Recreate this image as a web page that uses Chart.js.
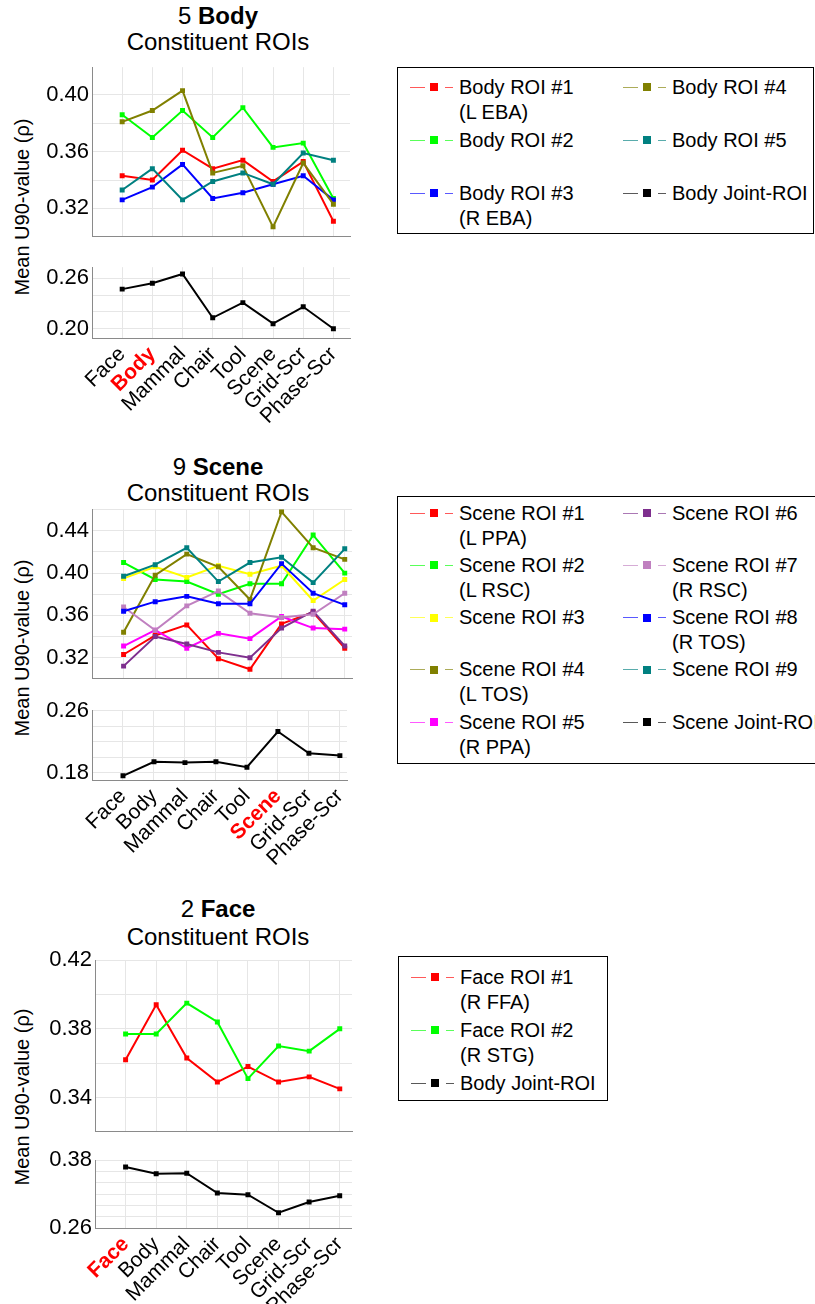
<!DOCTYPE html>
<html>
<head>
<meta charset="utf-8">
<script src="https://cdn.jsdelivr.net/npm/chart.js@4"></script>
<style>
body { margin: 0; background: #fff; }
#page { position: relative; width: 815px; height: 1304px; overflow: hidden; font-family: "Liberation Sans", Arial, sans-serif; color: #000; }
canvas { position: absolute; }
.title { position: absolute; left: 68px; width: 300px; text-align: center; font-size: 24px; line-height: 26px; white-space: nowrap; }
.ylab { position: absolute; font-size: 20px; white-space: nowrap; transform: translate(-50%, -50%) rotate(-90deg); }
.legend { position: absolute; border: 1.5px solid #000; background: #fff; box-sizing: border-box; }
.lg-text { position: absolute; font-size: 20px; line-height: 25px; white-space: pre; }
.lg-line { position: absolute; height: 1px; opacity: 0.65; }
.lg-box { position: absolute; width: 8px; height: 8px; }
</style>
</head>
<body>
<div id="page">
  <div class="title" style="top:3px">5 <b>Body</b><br>Constituent ROIs</div>
  <div class="title" style="top:454px">9 <b>Scene</b><br>Constituent ROIs</div>
  <div class="title" style="top:895px;line-height:28px">2 <b>Face</b><br>Constituent ROIs</div>
  <div class="ylab" style="left:22px;top:207px">Mean U90-value (ρ)</div>
  <div class="ylab" style="left:22px;top:648px">Mean U90-value (ρ)</div>
  <div class="ylab" style="left:22px;top:1097px">Mean U90-value (ρ)</div>
  <canvas id="bodyTop"></canvas>
  <canvas id="bodyBottom"></canvas>
  <canvas id="sceneTop"></canvas>
  <canvas id="sceneBottom"></canvas>
  <canvas id="faceTop"></canvas>
  <canvas id="faceBottom"></canvas>
</div>
<script>
const categories = ["Face", "Body", "Mammal", "Chair", "Tool", "Scene", "Grid-Scr", "Phase-Scr"];

// 5 Body
const bodyRoi1 = [0.343, 0.340, 0.361, 0.348, 0.354, 0.339, 0.353, 0.311];
const bodyRoi2 = [0.386, 0.370, 0.389, 0.370, 0.391, 0.363, 0.366, 0.327];
const bodyRoi3 = [0.326, 0.335, 0.351, 0.327, 0.331, 0.337, 0.343, 0.326];
const bodyRoi4 = [0.381, 0.389, 0.403, 0.345, 0.350, 0.307, 0.352, 0.323];
const bodyRoi5 = [0.333, 0.348, 0.326, 0.339, 0.345, 0.337, 0.359, 0.354];
const bodyJoint = [0.247, 0.254, 0.265, 0.213, 0.231, 0.206, 0.226, 0.200];
const bodyNames = ["Body ROI #1\n(L EBA)", "Body ROI #2", "Body ROI #3\n(R EBA)", "Body ROI #4", "Body ROI #5", "Body Joint-ROI"];

// 9 Scene
const sceneRoi1 = [0.323, 0.341, 0.351, 0.319, 0.309, 0.352, 0.363, 0.329];
const sceneRoi2 = [0.410, 0.394, 0.392, 0.380, 0.390, 0.390, 0.436, 0.400];
const sceneRoi3 = [0.395, 0.406, 0.396, 0.407, 0.399, 0.407, 0.374, 0.394];
const sceneRoi4 = [0.344, 0.398, 0.418, 0.406, 0.375, 0.458, 0.424, 0.413];
const sceneRoi5 = [0.331, 0.346, 0.329, 0.343, 0.338, 0.359, 0.348, 0.347];
const sceneRoi6 = [0.312, 0.340, 0.333, 0.325, 0.320, 0.348, 0.364, 0.331];
const sceneRoi7 = [0.368, 0.346, 0.369, 0.383, 0.362, 0.358, 0.361, 0.381];
const sceneRoi8 = [0.364, 0.373, 0.378, 0.371, 0.371, 0.409, 0.381, 0.370];
const sceneRoi9 = [0.397, 0.408, 0.424, 0.392, 0.410, 0.415, 0.391, 0.423];
const sceneJoint = [0.176, 0.194, 0.193, 0.194, 0.187, 0.233, 0.205, 0.202];
const sceneNames = ["Scene ROI #1\n(L PPA)", "Scene ROI #2\n(L RSC)", "Scene ROI #3", "Scene ROI #4\n(L TOS)", "Scene ROI #5\n(R PPA)",
  "Scene ROI #6", "Scene ROI #7\n(R RSC)", "Scene ROI #8\n(R TOS)", "Scene ROI #9", "Scene Joint-ROI"];

// 2 Face
const faceRoi1 = [0.362, 0.394, 0.363, 0.349, 0.358, 0.349, 0.352, 0.345];
const faceRoi2 = [0.377, 0.377, 0.395, 0.384, 0.351, 0.370, 0.367, 0.380];
const faceJoint = [0.368, 0.356, 0.357, 0.322, 0.319, 0.287, 0.306, 0.317];
const faceNames = ["Face ROI #1\n(R FFA)", "Face ROI #2\n(R STG)", "Body Joint-ROI"];

// y tick labels shown (grid every 0.02)
const bodyTopTicks = [0.32, 0.36, 0.40];
const bodyJointTicks = [0.20, 0.26];
const sceneTopTicks = [0.32, 0.36, 0.40, 0.44];
const sceneJointTicks = [0.18, 0.26];
const faceTopTicks = [0.34, 0.38, 0.42];
const faceJointTicks = [0.26, 0.38];

const FONT = "'Liberation Sans', Arial, sans-serif";
const GRID = "#e6e6e6";
const AXIS = "#8a8a8a";
const PAD = 16;

function series(values, color, i) {
  return {
    data: values.map((v, k) => ({ x: k + 1, y: v })),
    borderColor: color,
    backgroundColor: color,
    borderWidth: 2,
    pointStyle: "rect",
    pointRadius: 3.5,
    pointBorderWidth: 0,
    pointBackgroundColor: color,
    order: -i
  };
}

function plot(id, area, xMax, yMin, yMax, labeled, sets, showX, hi) {
  const cv = document.getElementById(id);
  const xH = showX ? 95 : 0;
  const w = area.right + 10;
  const h = area.bottom - area.top + PAD + (showX ? xH : PAD);
  cv.width = w; cv.height = h;
  cv.style.left = "0px"; cv.style.top = (area.top - PAD) + "px";
  cv.style.width = w + "px"; cv.style.height = h + "px";
  return new Chart(cv.getContext("2d"), {
    type: "line",
    data: { datasets: sets.map((s, i) => series(s[0], s[1], i)) },
    options: {
      responsive: false,
      animation: false,
      events: [],
      layout: { autoPadding: false, padding: { top: PAD, right: 10, bottom: showX ? 0 : PAD, left: 0 } },
      plugins: { legend: { display: false }, tooltip: { enabled: false } },
      scales: {
        x: {
          type: "linear", min: 0, max: xMax,
          afterBuildTicks: s => { s.ticks = categories.map((c, k) => ({ value: k + 1 })); },
          afterFit: s => { s.height = xH; },
          grid: { color: GRID, drawTicks: false },
          border: { color: AXIS, width: 1 },
          ticks: {
            display: showX, autoSkip: false, minRotation: 45, maxRotation: 45, padding: 4,
            callback: v => categories[Math.round(v) - 1] || "",
            color: c => c.index === hi ? "#ff0000" : "#000",
            font: c => ({ family: FONT, size: 21, weight: c.index === hi ? "bold" : "normal" })
          }
        },
        y: {
          min: yMin, max: yMax,
          afterBuildTicks: s => {
            const out = [];
            for (let k = Math.ceil(yMin / 0.02 - 1e-6); k * 0.02 <= yMax + 1e-6; k++) out.push({ value: +(k * 0.02).toFixed(2) });
            s.ticks = out;
          },
          afterFit: s => { s.width = area.left; },
          grid: { color: GRID, drawTicks: false },
          border: { color: AXIS, width: 1 },
          ticks: {
            autoSkip: false, padding: 3, color: "#000",
            font: { family: FONT, size: 22 },
            callback: v => labeled.some(t => Math.abs(t - v) < 1e-6) ? v.toFixed(2) : ""
          }
        }
      }
    }
  });
}

const C = {
  red: "#ff0000", green: "#00ff00", blue: "#0000ff", olive: "#808000", teal: "#008080",
  black: "#000000", yellow: "#ffff00", magenta: "#ff00ff", purple: "#7e2f8e", orchid: "#c080c0"
};

// Body panel
plot("bodyTop", { left: 92, top: 67, right: 350, bottom: 237 }, 8.55, 0.30, 0.4195, bodyTopTicks,
  [[bodyRoi1, C.red], [bodyRoi2, C.green], [bodyRoi3, C.blue], [bodyRoi4, C.olive], [bodyRoi5, C.teal]], false, -1);
plot("bodyBottom", { left: 92, top: 267, right: 350, bottom: 338 }, 8.55, 0.189, 0.273, bodyJointTicks,
  [[bodyJoint, C.black]], true, 1);

// Scene panel
plot("sceneTop", { left: 92, top: 509, right: 352, bottom: 679 }, 8.23, 0.30, 0.4605, sceneTopTicks,
  [[sceneRoi1, C.red], [sceneRoi2, C.green], [sceneRoi3, C.yellow], [sceneRoi4, C.olive], [sceneRoi5, C.magenta],
   [sceneRoi6, C.purple], [sceneRoi7, C.orchid], [sceneRoi8, C.blue], [sceneRoi9, C.teal]], false, -1);
plot("sceneBottom", { left: 92, top: 710, right: 352, bottom: 780 }, 8.23, 0.1706, 0.2605, sceneJointTicks,
  [[sceneJoint, C.black]], true, 5);

// Face panel
plot("faceTop", { left: 95, top: 960, right: 352, bottom: 1132 }, 8.4, 0.32, 0.42, faceTopTicks,
  [[faceRoi1, C.red], [faceRoi2, C.green]], false, -1);
plot("faceBottom", { left: 95, top: 1160, right: 352, bottom: 1228 }, 8.4, 0.26, 0.38, faceJointTicks,
  [[faceJoint, C.black]], true, 0);

// legends
function legend(box, first, step, names, colors, cols) {
  const page = document.getElementById("page");
  const d = document.createElement("div");
  d.className = "legend";
  Object.assign(d.style, { left: box.left + "px", top: box.top + "px", width: box.width + "px", height: box.height + "px" });
  page.appendChild(d);
  names.forEach((name, i) => {
    const col = i < cols[0] ? 0 : 1;
    const row = col === 0 ? i : i - cols[0];
    const x = box.left + (col === 0 ? 13 : 226);
    const y = box.top + first + row * step;
    const add = (cls, st) => {
      const e = document.createElement("div");
      e.className = cls;
      Object.assign(e.style, st);
      page.appendChild(e);
      return e;
    };
    add("lg-line", { left: x + "px", top: (y - 0.5) + "px", width: "15px", background: colors[i] });
    add("lg-box", { left: (x + 20) + "px", top: (y - 4) + "px", background: colors[i] });
    add("lg-line", { left: (x + 35) + "px", top: (y - 0.5) + "px", width: "8px", background: colors[i] });
    add("lg-text", { left: (x + 49) + "px", top: (y - 12.5) + "px" }).textContent = name;
  });
}

legend({ left: 397, top: 67, width: 417, height: 167 }, 20, 53, bodyNames,
  [C.red, C.green, C.blue, C.olive, C.teal, C.black], [3]);
legend({ left: 397, top: 496, width: 440, height: 268 }, 17, 52.3, sceneNames,
  [C.red, C.green, C.yellow, C.olive, C.magenta, C.purple, C.orchid, C.blue, C.teal, C.black], [5]);
legend({ left: 398, top: 956, width: 210, height: 145 }, 21, 53, faceNames,
  [C.red, C.green, C.black], [3]);
</script>
</body>
</html>
